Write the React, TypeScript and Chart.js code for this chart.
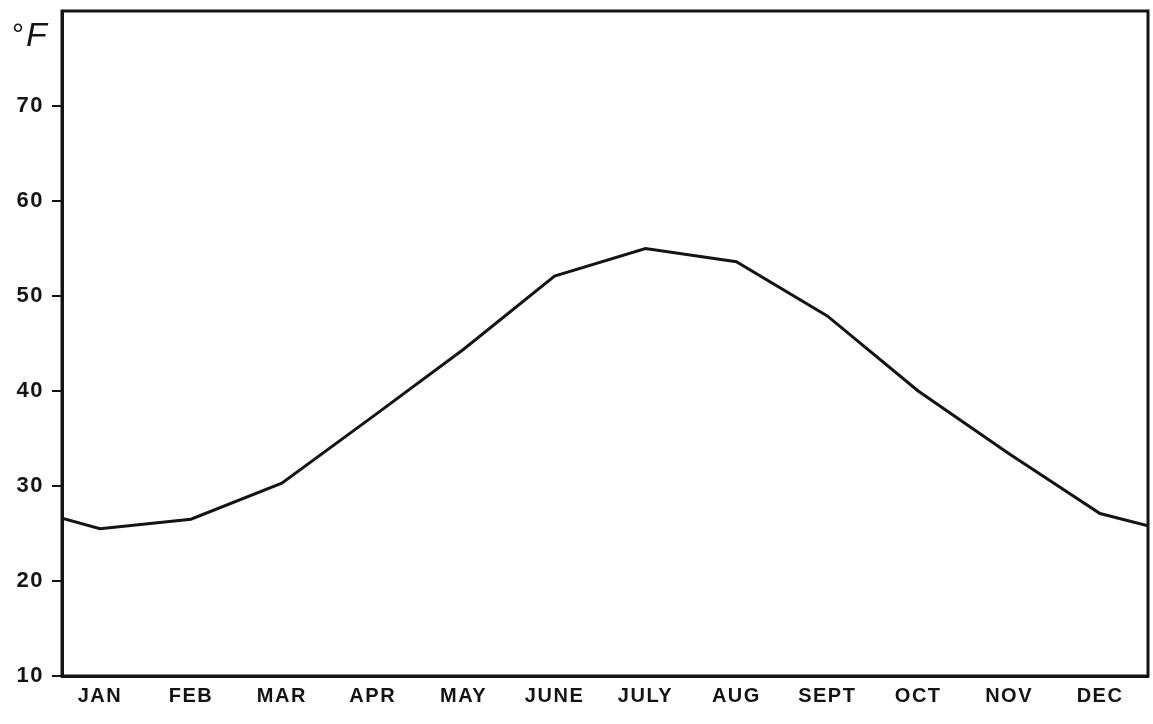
import React, { useEffect, useRef } from "react";
import { Chart, registerables } from "chart.js";

Chart.register(...registerables);

const MONTHS = ["JAN", "FEB", "MAR", "APR", "MAY", "JUNE", "JULY", "AUG", "SEPT", "OCT", "NOV", "DEC"];
const TEMPS_F = [25.5, 26.5, 30.3, 37.3, 44.4, 52.1, 55.0, 53.6, 47.9, 40.0, 33.4, 27.1];
const START_VALUE = 26.6; // value where the curve meets the left axis
const END_VALUE = 25.8; // value where the curve meets the right border
const Y_TICKS = [10, 20, 30, 40, 50, 60, 70, 80];
const X_MIN = 0.582;
const X_MAX = 12.528;
const UNIT = "°F";

const INK = "#141414";
const FONT = "'Liberation Sans', Arial, sans-serif";

export default function App() {
  const ref = useRef<HTMLCanvasElement | null>(null);

  useEffect(() => {
    if (!ref.current) return;
    const data = [
      { x: X_MIN, y: START_VALUE },
      ...TEMPS_F.map((v, i) => ({ x: i + 1, y: v })),
      { x: X_MAX, y: END_VALUE },
    ];

    const boxPlugin = {
      id: "box",
      beforeDraw(chart: any) {
        (chart.ctx as any).letterSpacing = "1.5px";
      },
      afterDraw(chart: any) {
        const { ctx, chartArea } = chart;
        ctx.save();
        ctx.strokeStyle = INK;
        ctx.lineWidth = 3;
        ctx.strokeRect(chartArea.left, chartArea.top, chartArea.right - chartArea.left, chartArea.bottom - chartArea.top);
        (ctx as any).letterSpacing = "0px";
        ctx.fillStyle = INK;
        ctx.textBaseline = "alphabetic";
        ctx.textAlign = "left";
        ctx.font = `30px ${FONT}`;
        ctx.fillText(UNIT.charAt(0), 12, 44);
        ctx.font = `italic 34px ${FONT}`;
        ctx.fillText(UNIT.charAt(1), 26, 46);
        ctx.restore();
      },
    };

    const chart = new Chart(ref.current, {
      type: "line",
      data: {
        datasets: [
          {
            data,
            borderColor: INK,
            borderWidth: 3,
            pointRadius: 0,
            tension: 0,
            fill: false,
          },
        ],
      },
      options: {
        responsive: false,
        animation: false,
        layout: { padding: { top: 11, right: 5, left: 0, bottom: 0 } },
        plugins: { legend: { display: false }, tooltip: { enabled: false } },
        scales: {
          x: {
            type: "linear",
            min: X_MIN,
            max: X_MAX,
            afterBuildTicks: (scale: any) => {
              scale.ticks = MONTHS.map((_, i) => ({ value: i + 1 }));
            },
            afterFit: (scale: any) => {
              scale.height = 48;
              scale.paddingLeft = 0;
              scale.paddingRight = 0;
            },
            ticks: {
              autoSkip: false,
              maxRotation: 0,
              padding: 8,
              color: INK,
              font: { family: FONT, size: 20, weight: "bold" },
              callback: (v: any) => MONTHS[Math.round(Number(v)) - 1] ?? "",
            },
            grid: { display: false, drawTicks: false },
            border: { display: true, color: INK, width: 3 },
          },
          y: {
            type: "linear",
            min: Y_TICKS[0],
            max: Y_TICKS[Y_TICKS.length - 1],
            afterBuildTicks: (scale: any) => {
              scale.ticks = Y_TICKS.map((v) => ({ value: v }));
            },
            afterFit: (scale: any) => {
              scale.width = 62;
              scale.paddingTop = 0;
              scale.paddingBottom = 0;
            },
            ticks: {
              padding: 8,
              color: INK,
              font: { family: FONT, size: 22, weight: "bold" },
              callback: (v: any) => (Number(v) === Y_TICKS[Y_TICKS.length - 1] ? "" : String(v)),
            },
            grid: {
              drawOnChartArea: false,
              drawTicks: true,
              tickLength: 10,
              lineWidth: 2,
              color: (ctx: any) => (ctx.tick && ctx.tick.value === Y_TICKS[Y_TICKS.length - 1] ? "rgba(0,0,0,0)" : INK),
            },
            border: { display: true, color: INK, width: 3 },
          },
        },
      },
      plugins: [boxPlugin],
    });
    return () => chart.destroy();
  }, []);

  return (
    <div style={{ position: "absolute", left: 0, top: 0, width: 1153, height: 724, background: "#fff" }}>
      <canvas ref={ref} width={1153} height={724} style={{ display: "block" }} />
    </div>
  );
}
